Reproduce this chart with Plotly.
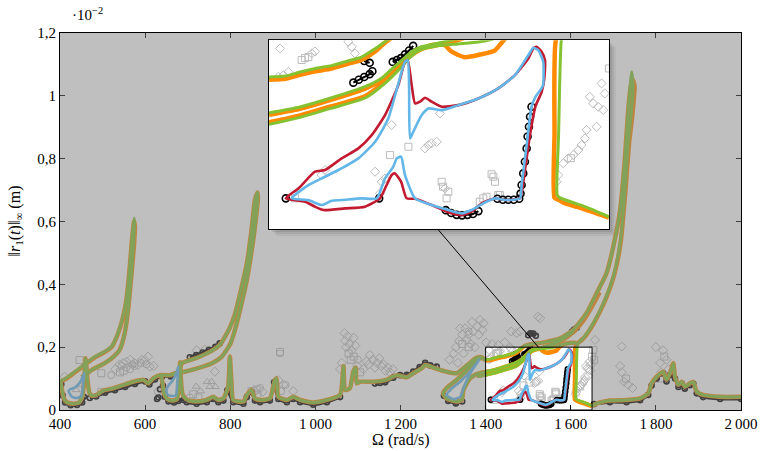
import plotly.graph_objects as go

# ---------------- tick labels ----------------
XTICK_VALS = [400, 600, 800, 1000, 1200, 1400, 1600, 1800, 2000]
XTICK_TEXT = ["400", "600", "800", "1\u2009000", "1\u2009200", "1\u2009400", "1\u2009600", "1\u2009800", "2\u2009000"]
YTICK_VALS = [0, 0.2, 0.4, 0.6, 0.8, 1.0, 1.2]
YTICK_TEXT = ["0", "0,2", "0,4", "0,6", "0,8", "1", "1,2"]

# ---------------- orange (HB) segments, y in 1e-2 m ----------------
OR_RES1_X = [400, 415, 427, 440, 450, 458, 466, 482, 505, 521, 536, 548, 556, 564, 569, 574, 576, 573, 566, 560, 552, 540, 521, 497, 474, 458, 450]
OR_RES1_Y = [0.090, 0.100, 0.112, 0.125, 0.135, 0.145, 0.152, 0.168, 0.184, 0.200, 0.242, 0.295, 0.350, 0.456, 0.541, 0.600, 0.585, 0.510, 0.403, 0.318, 0.244, 0.191, 0.164, 0.143, 0.127, 0.111, 0.105]
GR_RES1_X = [400, 415, 427, 440, 450, 458, 466, 482, 505, 521, 536, 548, 556, 564, 569, 574, 575, 572, 566, 560, 552, 540, 521, 497, 474, 458, 450]
GR_RES1_Y = [0.092, 0.102, 0.114, 0.127, 0.137, 0.147, 0.154, 0.170, 0.186, 0.202, 0.244, 0.297, 0.352, 0.458, 0.543, 0.611, 0.590, 0.510, 0.403, 0.318, 0.244, 0.191, 0.164, 0.143, 0.127, 0.111, 0.105]

LOOP1_X = [401, 404, 408, 416, 430, 445, 453, 457, 460, 462, 465, 469, 476, 488]
LOOP1_Y = [0.092, 0.070, 0.040, 0.025, 0.020, 0.024, 0.045, 0.100, 0.165, 0.140, 0.090, 0.055, 0.045, 0.048]

LOW1_X = [488, 502, 525, 549, 572, 596, 607, 619, 635, 658, 678, 686]
LOW1_Y = [0.050, 0.062, 0.069, 0.080, 0.090, 0.096, 0.085, 0.101, 0.111, 0.111, 0.122, 0.150]

LOOP2_X = [637, 641, 645, 652, 664, 675, 679, 681, 682, 684, 688, 698]
LOOP2_Y = [0.110, 0.085, 0.050, 0.035, 0.030, 0.035, 0.080, 0.120, 0.152, 0.100, 0.050, 0.032]

RES2_X = [686, 709, 732, 756, 777, 799, 811, 823, 839, 850, 858, 864, 865, 862, 854, 839, 823, 810, 800, 779, 756, 724, 693, 682]
RES2_Y = [0.150, 0.160, 0.172, 0.188, 0.210, 0.262, 0.305, 0.370, 0.467, 0.573, 0.669, 0.692, 0.675, 0.630, 0.541, 0.414, 0.318, 0.250, 0.210, 0.168, 0.148, 0.133, 0.122, 0.120]

LOW2_X = [698, 721, 745, 760, 772, 784, 795, 799, 803, 807, 831, 839, 850, 858, 870, 893, 905, 909, 913, 933, 948, 964, 995, 1027, 1058, 1066, 1070, 1081, 1089, 1095, 1097, 1105, 1136, 1167, 1191, 1215, 1230, 1250, 1258, 1281, 1308, 1332, 1348, 1363, 1377, 1390, 1400]
LOW2_Y = [0.032, 0.027, 0.032, 0.042, 0.032, 0.037, 0.074, 0.170, 0.085, 0.032, 0.027, 0.048, 0.064, 0.037, 0.032, 0.037, 0.096, 0.101, 0.042, 0.032, 0.042, 0.032, 0.024, 0.032, 0.048, 0.140, 0.064, 0.069, 0.122, 0.135, 0.085, 0.090, 0.090, 0.096, 0.111, 0.104, 0.117, 0.133, 0.143, 0.133, 0.122, 0.117, 0.133, 0.150, 0.165, 0.168, 0.158]

OR_BIG_X = [1400, 1412, 1422, 1434, 1446, 1458, 1468, 1478, 1485, 1492, 1510, 1540, 1575, 1606, 1637, 1661, 1684, 1700, 1716, 1727, 1735, 1741, 1746, 1750, 1748, 1744, 1737, 1728, 1717, 1701, 1678, 1654, 1630, 1616, 1611, 1610, 1610, 1613, 1618, 1630, 1642, 1650]
OR_BIG_Y = [0.158, 0.159, 0.163, 0.167, 0.170, 0.175, 0.179, 0.188, 0.197, 0.204, 0.210, 0.216, 0.228, 0.255, 0.308, 0.372, 0.435, 0.520, 0.637, 0.796, 0.955, 1.030, 1.050, 1.030, 0.987, 0.930, 0.849, 0.690, 0.531, 0.425, 0.340, 0.276, 0.228, 0.212, 0.200, 0.100, 0.033, 0.031, 0.027, 0.022, 0.016, 0.012]
GR_BIG_X = [1400, 1412, 1422, 1434, 1446, 1458, 1468, 1478, 1485, 1490, 1510, 1540, 1575, 1606, 1637, 1661, 1684, 1700, 1716, 1727, 1735, 1740, 1743, 1746, 1745, 1735, 1727, 1716, 1700, 1677, 1653, 1629, 1617, 1615, 1613, 1612, 1614, 1630, 1642, 1650]
GR_BIG_Y = [0.161, 0.162, 0.166, 0.170, 0.173, 0.178, 0.182, 0.191, 0.198, 0.203, 0.210, 0.216, 0.228, 0.255, 0.308, 0.372, 0.435, 0.520, 0.637, 0.796, 0.955, 1.040, 1.077, 1.040, 0.987, 0.849, 0.690, 0.531, 0.425, 0.340, 0.276, 0.228, 0.212, 0.200, 0.100, 0.036, 0.033, 0.025, 0.018, 0.013]

LOW3_X = [1650, 1660, 1692, 1731, 1763, 1782, 1790, 1802, 1817, 1825, 1833, 1841, 1845, 1853, 1861, 1868, 1880, 1888, 1896, 1911, 1951, 2000]
LOW3_Y = [0.012, 0.020, 0.030, 0.032, 0.037, 0.053, 0.085, 0.106, 0.122, 0.096, 0.117, 0.149, 0.106, 0.080, 0.090, 0.074, 0.085, 0.090, 0.058, 0.048, 0.042, 0.042]

LOOP3_X = [1390, 1379, 1356, 1332, 1308, 1300, 1308, 1332, 1344, 1348, 1363, 1380, 1400]
LOOP3_Y = [0.166, 0.160, 0.127, 0.096, 0.069, 0.053, 0.037, 0.027, 0.032, 0.064, 0.100, 0.115, 0.121]

OR_BANDB_X = [1400, 1422, 1446, 1471, 1483, 1490, 1498, 1505, 1512, 1525, 1534, 1545, 1575, 1606, 1630, 1650, 1668]
OR_BANDB_Y = [0.121, 0.127, 0.137, 0.149, 0.158, 0.167, 0.177, 0.186, 0.191, 0.195, 0.198, 0.203, 0.218, 0.248, 0.285, 0.330, 0.375]
GR_BANDB_X = [1400, 1422, 1446, 1471, 1483, 1490, 1498, 1505, 1512, 1525, 1545, 1575, 1606]
GR_BANDB_Y = [0.123, 0.129, 0.139, 0.151, 0.160, 0.169, 0.179, 0.188, 0.193, 0.197, 0.204, 0.220, 0.250]

OR_BANDC_X = [1380, 1400, 1422, 1446, 1471, 1485, 1495, 1503, 1510, 1520, 1529, 1534, 1544, 1556, 1566, 1571, 1574, 1585, 1600, 1613]
OR_BANDC_Y = [0.108, 0.113, 0.120, 0.130, 0.141, 0.156, 0.170, 0.182, 0.189, 0.195, 0.195, 0.188, 0.182, 0.185, 0.189, 0.197, 0.202, 0.210, 0.214, 0.214]
GR_BANDC_X = [1380, 1400, 1422, 1446, 1471, 1485, 1495, 1503, 1510, 1524, 1539, 1554, 1564, 1580, 1600, 1613]
GR_BANDC_Y = [0.106, 0.111, 0.118, 0.128, 0.139, 0.154, 0.168, 0.181, 0.189, 0.194, 0.196, 0.198, 0.201, 0.208, 0.213, 0.214]

# ---------------- blue / red branches ----------------
BL_T1_X = [420, 428, 440, 450, 454, 457, 448, 436, 424, 420]
BL_T1_Y = [0.060, 0.042, 0.038, 0.045, 0.080, 0.118, 0.090, 0.072, 0.066, 0.060]
BL_T2_X = [650, 652, 660, 672, 675, 678, 672, 665, 656, 650]
BL_T2_Y = [0.065, 0.050, 0.045, 0.046, 0.080, 0.138, 0.112, 0.095, 0.080, 0.065]
BL_T3_X = [1385, 1365, 1340, 1318, 1308, 1318, 1328, 1340, 1348, 1356, 1370, 1385]
BL_T3_Y = [0.160, 0.125, 0.090, 0.065, 0.048, 0.038, 0.035, 0.042, 0.070, 0.096, 0.130, 0.160]

BL_Z_X = [1416.7, 1428.9, 1438.7, 1451.0, 1465.7, 1478.0, 1487.7, 1495.1, 1500.0, 1502.0, 1503.0, 1503.7, 1506.1, 1512.3, 1517.2, 1527.0, 1539.2, 1554.0, 1568.6, 1580.9, 1590.7, 1594.4, 1598.0, 1601.7, 1601.5, 1599.5, 1596.0, 1593.1, 1589.5, 1585.8, 1584.6, 1573.5, 1566.2, 1557.6, 1549.0, 1541.7, 1531.9, 1519.6, 1507.4, 1500.0, 1497.1, 1493.9, 1491.4, 1485.3, 1479.2, 1468.1, 1453.4, 1446.1, 1438.7, 1428.9, 1416.7]
BL_Z_Y = [0.0325, 0.0466, 0.0536, 0.0625, 0.0748, 0.0924, 0.1171, 0.1540, 0.1771, 0.1788, 0.1524, 0.0960, 0.1030, 0.1207, 0.1277, 0.1259, 0.1312, 0.1383, 0.1489, 0.1630, 0.1841, 0.1920, 0.1894, 0.1771, 0.1520, 0.1470, 0.1400, 0.1295, 0.0889, 0.0466, 0.0325, 0.0307, 0.0325, 0.0272, 0.0201, 0.0166, 0.0201, 0.0254, 0.0325, 0.0572, 0.0766, 0.0748, 0.0660, 0.0536, 0.0325, 0.0325, 0.0307, 0.0300, 0.0254, 0.0307, 0.0325]

RD_Z_X = [1412.3, 1421.6, 1433.8, 1441.2, 1453.4, 1465.7, 1475.5, 1485.3, 1495.1, 1500.0, 1502.0, 1504.9, 1507.4, 1511.0, 1514.7, 1519.6, 1527.0, 1539.2, 1554.0, 1568.6, 1580.9, 1590.7, 1594.4, 1596.8, 1600.5, 1603.0, 1602.5, 1600.5, 1596.0, 1592.0, 1589.0, 1586.0, 1584.6, 1573.5, 1566.2, 1556.4, 1549.0, 1541.7, 1534.3, 1519.6, 1507.4, 1501.2, 1497.1, 1492.6, 1490.2, 1486.5, 1481.6, 1470.6, 1455.9, 1440.0, 1433.8, 1426.5, 1412.3]
RD_Z_Y = [0.0325, 0.0430, 0.0607, 0.0625, 0.0748, 0.0854, 0.0995, 0.1207, 0.1524, 0.1771, 0.1788, 0.1524, 0.1330, 0.1348, 0.1390, 0.1348, 0.1295, 0.1312, 0.1383, 0.1489, 0.1630, 0.1806, 0.1912, 0.1930, 0.1877, 0.1788, 0.1595, 0.1450, 0.1300, 0.1000, 0.0700, 0.0400, 0.0325, 0.0307, 0.0325, 0.0272, 0.0184, 0.0148, 0.0166, 0.0254, 0.0320, 0.0325, 0.0501, 0.0589, 0.0572, 0.0466, 0.0325, 0.0237, 0.0219, 0.0201, 0.0237, 0.0290, 0.0325]

# ---------------- black circles (reference points) ----------------
BK_SEGS_X = [
    [403, 406, 412, 425, 440, 452, 456],
    [470, 485, 506, 529, 553, 576, 600, 610, 623, 640, 660, 678],
    [628], [631], [635],
    [642, 646, 655, 668, 678, 690, 698, 721, 745, 760, 772, 784, 793, 807, 831, 839, 850, 858, 870, 893, 903, 913, 933, 948, 964, 995, 1027, 1058],
    [705, 720, 735, 750, 765, 775],
    [1140, 1152, 1164, 1183, 1199, 1215, 1230, 1245, 1258, 1270, 1285],
    [1302, 1312, 1330, 1345],
    [1412.3], [1481.0],
    [1462, 1466, 1470, 1474, 1476],
    [1470, 1474],
    [1491, 1494, 1497, 1500, 1503, 1506],
    [1530, 1534, 1538, 1542, 1546, 1550, 1554],
    [1568, 1572, 1576, 1580, 1584],
    [1585, 1585.8, 1587, 1588.2, 1589.5, 1590.2, 1591.2, 1592, 1593.1],
    [1500, 1505, 1512, 1518],
    [1603, 1608, 1614],
    [1655, 1692, 1731, 1763, 1782, 1790, 1802, 1817, 1825, 1833, 1845, 1853, 1861, 1868, 1880, 1888, 1896, 1911, 1951, 2000],
]
BK_SEGS_Y = [
    [0.082, 0.047, 0.024, 0.015, 0.016, 0.024, 0.042],
    [0.038, 0.043, 0.055, 0.063, 0.073, 0.083, 0.091, 0.081, 0.097, 0.107, 0.107, 0.116],
    [0.035], [0.040], [0.066],
    [0.077, 0.042, 0.027, 0.024, 0.029, 0.032, 0.025, 0.020, 0.025, 0.035, 0.025, 0.030, 0.063, 0.025, 0.020, 0.041, 0.057, 0.030, 0.025, 0.030, 0.088, 0.035, 0.025, 0.035, 0.025, 0.017, 0.025, 0.041],
    [0.168, 0.175, 0.183, 0.192, 0.201, 0.212],
    [0.084, 0.086, 0.088, 0.103, 0.111, 0.112, 0.122, 0.137, 0.150, 0.142, 0.138],
    [0.045, 0.029, 0.021, 0.027],
    [0.0325], [0.0325],
    [0.155, 0.158, 0.161, 0.164, 0.167],
    [0.178, 0.176],
    [0.177, 0.179, 0.181, 0.185, 0.189, 0.194],
    [0.020, 0.017, 0.015, 0.0145, 0.015, 0.016, 0.019],
    [0.032, 0.031, 0.031, 0.031, 0.032],
    [0.0375, 0.0466, 0.0589, 0.0713, 0.0854, 0.098, 0.1083, 0.1189, 0.1295],
    [0.238, 0.244, 0.243, 0.236],
    [0.250, 0.256, 0.262],
    [0.019, 0.025, 0.025, 0.031, 0.048, 0.078, 0.100, 0.116, 0.091, 0.111, 0.100, 0.073, 0.083, 0.068, 0.079, 0.083, 0.053, 0.041, 0.035, 0.035],
]

# ---------------- gray scattered markers ----------------
GD_X = [411, 548, 556, 583, 599, 607, 611, 721, 740, 764, 858, 876, 905, 913, 925, 948, 1068, 1070, 1072, 1076, 1080, 1098, 1113, 1125, 1135, 1145, 1155, 1165, 1175, 1315, 1325, 1335, 1340, 1345, 1348, 1356, 1365, 1371, 1380, 1387, 1395, 1401, 1415, 1430, 1445, 1460, 1473, 1481, 1523, 1528, 1657, 1720, 1716, 1720, 1725, 1735, 1745, 1800, 1810, 1817, 1825, 1812, 1830,
        1058, 1062, 1085, 1090, 1094, 1120, 1128, 1140, 1150, 1160, 1170, 1182, 1330, 1338, 1352, 1360, 1368, 1375, 1384, 1392, 530, 540, 565, 575, 592, 620,
        1408.1, 1431.4, 1433.8, 1406.9, 1410.5, 1414.2, 1458.3, 1460.8, 1463.2, 1490.2, 1478.0, 1481.6, 1482.9, 1485.3, 1438.7, 1441.2, 1514.7, 1517.2, 1519.6, 1523.3, 1525.7, 1529.4, 1644.6, 1636.0, 1638.5, 1642.2, 1645.8, 1647.0, 1640.9, 1633.6, 1632.4, 1629.9, 1627.5, 1623.8, 1620.1, 1616.4, 1612.7, 1611.5]
GD_Y = [0.106, 0.149, 0.154, 0.143, 0.159, 0.170, 0.138, 0.190, 0.192, 0.122, 0.060, 0.058, 0.070, 0.095, 0.080, 0.060, 0.245, 0.220, 0.200, 0.235, 0.210, 0.140, 0.130, 0.145, 0.160, 0.150, 0.140, 0.125, 0.120, 0.160, 0.180, 0.150, 0.260, 0.240, 0.180, 0.223, 0.210, 0.250, 0.265, 0.287, 0.276, 0.215, 0.210, 0.207, 0.215, 0.250, 0.245, 0.250, 0.297, 0.292, 0.223, 0.202, 0.140, 0.120, 0.090, 0.080, 0.070, 0.200, 0.150, 0.190, 0.160, 0.120, 0.130,
        0.130, 0.150, 0.190, 0.230, 0.205, 0.155, 0.175, 0.135, 0.165, 0.145, 0.135, 0.130, 0.200, 0.220, 0.260, 0.240, 0.280, 0.200, 0.240, 0.255, 0.130, 0.145, 0.160, 0.150, 0.160, 0.140,
        0.1912, 0.1860, 0.1880, 0.1612, 0.1630, 0.1665, 0.1982, 0.1930, 0.1860, 0.1101, 0.0607, 0.0378, 0.0500, 0.0536, 0.0572, 0.0625, 0.0854, 0.0889, 0.0907, 0.0924, 0.1224, 0.0430, 0.1542, 0.1400, 0.1330, 0.1295, 0.1260, 0.1436, 0.1083, 0.1050, 0.0960, 0.0889, 0.0836, 0.0783, 0.0748, 0.0695, 0.0572, 0.0501]
GS_X = [446, 497, 497, 541, 549, 713, 725, 850, 862, 917, 1083, 1090, 1105, 1360, 1653, 1650, 1655, 1730, 1810, 1820, 1078, 1345,
        1424.0, 1426.5, 1428.9, 1489.0, 1502.5, 1419.1, 1527.0, 1530.6, 1531.9, 1528.0, 1555.0, 1557.6, 1560.0, 1563.7, 1565.0, 1566.2, 1568.6, 1569.8, 1622.0]
GS_Y = [0.159, 0.117, 0.058, 0.120, 0.125, 0.050, 0.040, 0.060, 0.065, 0.185, 0.160, 0.170, 0.120, 0.200, 0.191, 0.170, 0.160, 0.100, 0.100, 0.170, 0.180, 0.210,
        0.1790, 0.1810, 0.1820, 0.0783, 0.0871, 0.0325, 0.0501, 0.0325, 0.0395, 0.0448, 0.0290, 0.0325, 0.0342, 0.0580, 0.0554, 0.0501, 0.0360, 0.0360, 0.0750]
GT_X = [438, 446, 720, 730, 746, 756, 752, 765]
GT_Y = [0.064, 0.080, 0.075, 0.060, 0.090, 0.090, 0.074, 0.074]
GC_X = [520, 556, 565, 575, 590, 603, 630, 637, 705, 865, 870, 917, 920, 930, 545, 570, 1100, 1360]
GC_Y = [0.111, 0.135, 0.130, 0.140, 0.150, 0.145, 0.058, 0.064, 0.040, 0.050, 0.070, 0.180, 0.060, 0.080, 0.140, 0.145, 0.160, 0.250]

# ---------------- styles ----------------
C_OR = "#ff8a00"
C_GR = "#84c232"
C_BL = "#62b6e8"
C_RD = "#c21a30"
C_GRAY = "#bcbcbc"
FONT = "Liberation Serif"


def join(xsegs, ysegs):
    xs, ys = [], []
    for sx, sy in zip(xsegs, ysegs):
        assert len(sx) == len(sy), (sx, sy)
        xs += list(sx) + [None]
        ys += list(sy) + [None]
    return xs, ys


assert len(GD_X) == len(GD_Y) and len(GS_X) == len(GS_Y) and len(GC_X) == len(GC_Y)

orange = join([OR_RES1_X, LOOP1_X, LOW1_X, LOOP2_X, RES2_X, LOW2_X, OR_BIG_X, LOW3_X, LOOP3_X, OR_BANDB_X, OR_BANDC_X],
               [OR_RES1_Y, LOOP1_Y, LOW1_Y, LOOP2_Y, RES2_Y, LOW2_Y, OR_BIG_Y, LOW3_Y, LOOP3_Y, OR_BANDB_Y, OR_BANDC_Y])
green = join([GR_RES1_X, LOOP1_X, LOW1_X, LOOP2_X, RES2_X, LOW2_X, GR_BIG_X, LOW3_X, LOOP3_X, GR_BANDB_X, GR_BANDC_X],
             [GR_RES1_Y, LOOP1_Y, LOW1_Y, LOOP2_Y, RES2_Y, LOW2_Y, GR_BIG_Y, LOW3_Y, LOOP3_Y, GR_BANDB_Y, GR_BANDC_Y])
blue = join([BL_T1_X, BL_T2_X, BL_T3_X, BL_Z_X], [BL_T1_Y, BL_T2_Y, BL_T3_Y, BL_Z_Y])
red = join([RD_Z_X], [RD_Z_Y])
black = join(BK_SEGS_X, BK_SEGS_Y)

fig = go.Figure()

SMOOTH = 0.55
for xa, ya, msz, blw in [("x", "y", 5, 3), ("x2", "y2", 7, 2)]:
    for sx, sy, sym in [(GD_X, GD_Y, "diamond-open"), (GS_X, GS_Y, "square-open"),
                        (GT_X, GT_Y, "triangle-up-open"), (GC_X, GC_Y, "circle-open")]:
        fig.add_trace(go.Scatter(x=sx, y=sy, mode="markers", xaxis=xa, yaxis=ya,
                                 marker=dict(symbol=sym, size=7, color=C_GRAY, line=dict(width=1, color=C_GRAY)),
                                 hoverinfo="skip", showlegend=False))
    fig.add_trace(go.Scatter(x=black[0], y=black[1], mode="lines+markers", xaxis=xa, yaxis=ya,
                             line=dict(color="black", width=blw, shape="spline", smoothing=SMOOTH),
                             marker=dict(symbol="circle-open", size=msz, color="black", line=dict(width=1.6, color="black")),
                             hoverinfo="skip", showlegend=False))
    fig.add_trace(go.Scatter(x=orange[0], y=orange[1], mode="lines", xaxis=xa, yaxis=ya,
                             line=dict(color=C_OR, width=4.5, shape="spline", smoothing=SMOOTH),
                             hoverinfo="skip", showlegend=False))
    fig.add_trace(go.Scatter(x=green[0], y=green[1], mode="lines", xaxis=xa, yaxis=ya,
                             line=dict(color=C_GR, width=3, shape="spline", smoothing=SMOOTH),
                             hoverinfo="skip", showlegend=False))
    fig.add_trace(go.Scatter(x=red[0], y=red[1], mode="lines", xaxis=xa, yaxis=ya,
                             line=dict(color=C_RD, width=2.6, shape="spline", smoothing=SMOOTH),
                             hoverinfo="skip", showlegend=False))
    fig.add_trace(go.Scatter(x=blue[0], y=blue[1], mode="lines", xaxis=xa, yaxis=ya,
                             line=dict(color=C_BL, width=2.6, shape="spline", smoothing=SMOOTH),
                             hoverinfo="skip", showlegend=False))

# geometry of the inset (paper coordinates)
IX0, IX1, IY0, IY1 = 0.307, 0.806, 0.480, 0.981
SPY_X = [1400, 1650]
SPY_Y = [0, 0.2]
PW, PH = 681.0, 377.0

sx0 = (SPY_X[0] - 400) / 1600
sx1 = (SPY_X[1] - 400) / 1600
sy1 = SPY_Y[1] / 1.2
ex, ey = 1.0 / PW, 1.0 / PH

shapes = []
for k, a in [(7, 0.08), (5, 0.10), (3, 0.14)]:
    shapes.append(dict(type="rect", xref="paper", yref="paper", layer="below",
                       x0=IX0 + k * ex, x1=IX1 + k * ex, y0=IY0 - k * ey, y1=IY1 - k * ey,
                       fillcolor="rgba(0,0,0,%.2f)" % a, line=dict(width=0)))
path = ("M0,0 L1,0 L1,1 L0,1 Z "
        "M{a},0 L{b},0 L{b},{c} L{a},{c} Z "
        "M{d},{e} L{f},{e} L{f},{g} L{d},{g} Z").format(
    a=sx0, b=sx1, c=sy1, d=IX0 - ex, e=IY0 - ey, f=IX1 + ex, g=IY1 + ey)
shapes.append(dict(type="path", path=path, xref="paper", yref="paper", layer="above",
                   fillcolor="rgba(128,128,128,0.5)", fillrule="evenodd", line=dict(width=0)))
shapes.append(dict(type="rect", xref="paper", yref="paper", layer="above",
                   x0=sx0, x1=sx1, y0=0, y1=sy1, line=dict(color="black", width=1), fillcolor="rgba(0,0,0,0)"))
cx = 1524
shapes.append(dict(type="line", xref="paper", yref="paper", layer="above",
                   x0=(cx - 400) / 1600, y0=sy1,
                   x1=IX0 + (cx - SPY_X[0]) / (SPY_X[1] - SPY_X[0]) * (IX1 - IX0), y1=IY0,
                   line=dict(color="black", width=1)))

axis_common = dict(showgrid=False, zeroline=False, showline=True, linecolor="black", linewidth=1,
                   ticks="inside", ticklen=5, tickcolor="black", mirror="ticks",
                   tickfont=dict(family=FONT, size=15, color="black"))

fig.update_layout(
    width=760, height=451,
    margin=dict(l=60, r=19, t=33, b=41, autoexpand=False),
    paper_bgcolor="white", plot_bgcolor="white",
    showlegend=False, hovermode=False,
    xaxis=dict(domain=[0, 1], range=[400, 2000], tickvals=XTICK_VALS, ticktext=XTICK_TEXT, **axis_common),
    yaxis=dict(domain=[0, 1], range=[0, 1.2], tickvals=YTICK_VALS, ticktext=YTICK_TEXT, **axis_common),
    xaxis2=dict(domain=[IX0, IX1], range=SPY_X, anchor="y2", showticklabels=False, ticks="",
                showgrid=False, zeroline=False, showline=True, mirror=True, linecolor="black", linewidth=1),
    yaxis2=dict(domain=[IY0, IY1], range=SPY_Y, anchor="x2", showticklabels=False, ticks="",
                showgrid=False, zeroline=False, showline=True, mirror=True, linecolor="black", linewidth=1),
    shapes=shapes,
    annotations=[
        dict(text="\u00b710<sup>\u22122</sup>", xref="paper", yref="paper", x=0.015, y=1.02,
             xanchor="left", yanchor="bottom", showarrow=False, font=dict(family=FONT, size=15, color="black")),
        dict(text="\u03a9 (rad/s)", xref="paper", yref="paper", x=0.5, y=-0.08,
             xanchor="center", yanchor="middle", showarrow=False, font=dict(family=FONT, size=16, color="black")),
        dict(text="\u2016<i>r</i><sub>1</sub>(<i>t</i>)\u2016<sub>\u221e</sub> (m)", xref="paper", yref="paper",
             x=-0.066, y=0.5, xanchor="center", yanchor="middle", textangle=-90, showarrow=False,
             font=dict(family=FONT, size=16, color="black")),
    ],
)

# remove the default page margin so the 760x451 figure fills the window exactly
fig.write_html("out.html",
               config={"displayModeBar": False, "staticPlot": True},
               post_script="document.body.style.margin='0px';document.body.style.overflow='hidden';")
